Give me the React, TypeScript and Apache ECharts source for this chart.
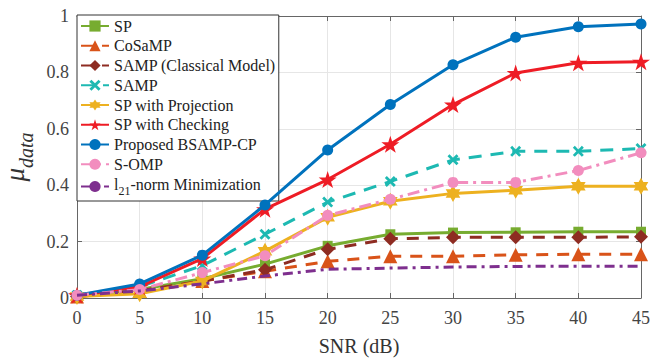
import React, { useEffect, useRef } from "react";
import * as echarts from "echarts";

const snr = [0, 5, 10, 15, 20, 25, 30, 35, 40, 45];
const sp = [0.005, 0.03, 0.068, 0.12, 0.185, 0.226, 0.232, 0.233, 0.235, 0.235];
const cosamp = [0.005, 0.025, 0.06, 0.095, 0.13, 0.148, 0.148, 0.153, 0.155, 0.155];
const sampClassical = [0.005, 0.025, 0.06, 0.1, 0.173, 0.21, 0.215, 0.215, 0.215, 0.217];
const samp = [0.01, 0.04, 0.115, 0.226, 0.34, 0.413, 0.49, 0.52, 0.52, 0.53];
const spProj = [0.005, 0.015, 0.06, 0.166, 0.286, 0.343, 0.371, 0.382, 0.396, 0.396];
const spCheck = [0.01, 0.04, 0.14, 0.315, 0.42, 0.545, 0.686, 0.798, 0.834, 0.838];
const proposed = [0.01, 0.05, 0.152, 0.33, 0.525, 0.686, 0.827, 0.925, 0.962, 0.972];
const somp = [0.01, 0.03, 0.09, 0.15, 0.293, 0.35, 0.41, 0.41, 0.452, 0.515];
const l21 = [0.01, 0.025, 0.05, 0.078, 0.102, 0.106, 0.11, 0.112, 0.113, 0.113];

const names = [
  "SP",
  "CoSaMP",
  "SAMP (Classical Model)",
  "SAMP",
  "SP with Projection",
  "SP with Checking",
  "Proposed BSAMP-CP",
  "S-OMP",
  "l21-norm Minimization",
];

const STAR5 = "path://M50,0 L61,35 L98,35 L68,57 L79,91 L50,70 L21,91 L32,57 L2,35 L39,35 Z";
const STAR6 = "path://M50,0 L64,25 L93,25 L79,50 L93,75 L64,75 L50,100 L36,75 L7,75 L21,50 L7,25 L36,25 Z";
const XMARK = "path://M0,18 L18,0 L50,32 L82,0 L100,18 L68,50 L100,82 L82,100 L50,68 L18,100 L0,82 L32,50 Z";

const FONT = "Liberation Serif";

export default function App() {
  const ref = useRef<HTMLDivElement>(null);
  useEffect(() => {
    if (!ref.current) return;
    const chart = echarts.init(ref.current, undefined, { renderer: "svg" });
    const mk = (
      name: string,
      vals: number[],
      color: string,
      symbol: string,
      symbolSize: number,
      dash: any,
      z: number
    ) => ({
      name,
      type: "line",
      data: snr.map((x, i) => [x, vals[i]]),
      symbol,
      symbolSize,
      symbolKeepAspect: true,
      showSymbol: symbol !== "none",
      z,
      lineStyle: { color, width: 3, type: dash },
      itemStyle: { color, borderColor: color, borderWidth: 0 },
      emphasis: { disabled: true },
    });
    const axisCommon = {
      type: "value" as const,
      axisLine: { show: true, onZero: false, lineStyle: { color: "#666", width: 1 } },
      axisTick: { show: true, inside: true, length: 5, lineStyle: { color: "#666" } },
      splitLine: { show: false },
    };
    const option: any = {
      animation: false,
      textStyle: { fontFamily: FONT },
      grid: { left: 77, right: 16, top: 16, bottom: 60, containLabel: false, outerBoundsMode: "none" },
      legend: {
        orient: "vertical",
        left: 77,
        top: 15,
        padding: [3, 3, 4, 3],
        itemGap: 3.75,
        itemWidth: 28,
        itemHeight: 14,
        backgroundColor: "#fff",
        borderColor: "#333",
        borderWidth: 1,
        borderRadius: 0,
        data: names,
        textStyle: {
          fontFamily: FONT,
          fontSize: 16,
          color: "#222",
          rich: {
            n: { fontFamily: FONT, fontSize: 16, color: "#222", verticalAlign: "bottom", padding: [0, 0, 5, 0] },
            s: { fontFamily: FONT, fontSize: 12, color: "#222", verticalAlign: "bottom" },
          },
        },
        formatter: (name: string) =>
          name === "l21-norm Minimization" ? "{n|l}{s|21}{n|-norm Minimization}" : name,
      },
      xAxis: [
        {
          ...axisCommon,
          min: 0,
          max: 45,
          interval: 5,
          name: "SNR (dB)",
          nameLocation: "middle",
          nameGap: 38,
          nameTextStyle: { fontFamily: FONT, fontSize: 20, color: "#333" },
          axisLabel: { fontFamily: FONT, fontSize: 18, color: "#444", margin: 11 },
          splitLine: { show: true, lineStyle: { color: "#e6e6e6", width: 1 } },
        },
        {
          ...axisCommon,
          position: "top",
          min: 0,
          max: 45,
          interval: 5,
          axisLabel: { show: false },
        },
      ],
      yAxis: [
        {
          ...axisCommon,
          min: 0,
          max: 1,
          interval: 0.2,
          name: "{mu|μ}{d|data}",
          nameLocation: "middle",
          nameGap: 39,
          nameTextStyle: {
            rich: {
              mu: { fontFamily: FONT, fontSize: 27, fontStyle: "italic", color: "#333", verticalAlign: "bottom", padding: [0, 0, 7, 0] },
              d: { fontFamily: FONT, fontSize: 20, fontStyle: "italic", color: "#333", verticalAlign: "bottom" },
            },
          },
          axisLabel: {
            fontFamily: FONT,
            fontSize: 18,
            color: "#444",
            margin: 8,
            formatter: (v: number) => (v === 0 ? "0" : v === 1 ? "1" : String(Number(v.toFixed(1)))),
          },
          splitLine: { show: true, lineStyle: { color: "#e6e6e6", width: 1 } },
        },
        {
          ...axisCommon,
          position: "right",
          min: 0,
          max: 1,
          interval: 0.2,
          axisLabel: { show: false },
        },
      ],
      series: [
        mk(names[0], sp, "#77AC30", "rect", 10, "solid", 2),
        mk(names[1], cosamp, "#D95319", "triangle", 14, [12, 9], 3),
        mk(names[2], sampClassical, "#8E2C22", "diamond", 14, [12, 9], 4),
        mk(names[3], samp, "#1DB9B2", XMARK, 11, [13, 9], 5),
        mk(names[4], spProj, "#EDB120", STAR6, 17, "solid", 6),
        mk(names[5], spCheck, "#EE1C25", STAR5, 18, "solid", 7),
        mk(names[6], proposed, "#0072BD", "circle", 11, "solid", 8),
        mk(names[7], somp, "#F28DBE", "circle", 11, [12, 5, 3, 5], 9),
        mk(names[8], l21, "#7E2F8E", "none", 1, [10, 5, 3, 5], 10),
      ],
    };
    chart.setOption(option);
    return () => chart.dispose();
  }, []);
  return (
    <div
      ref={ref}
      style={{ position: "fixed", left: 0, top: 0, width: 657, height: 358, background: "#fff" }}
    />
  );
}
